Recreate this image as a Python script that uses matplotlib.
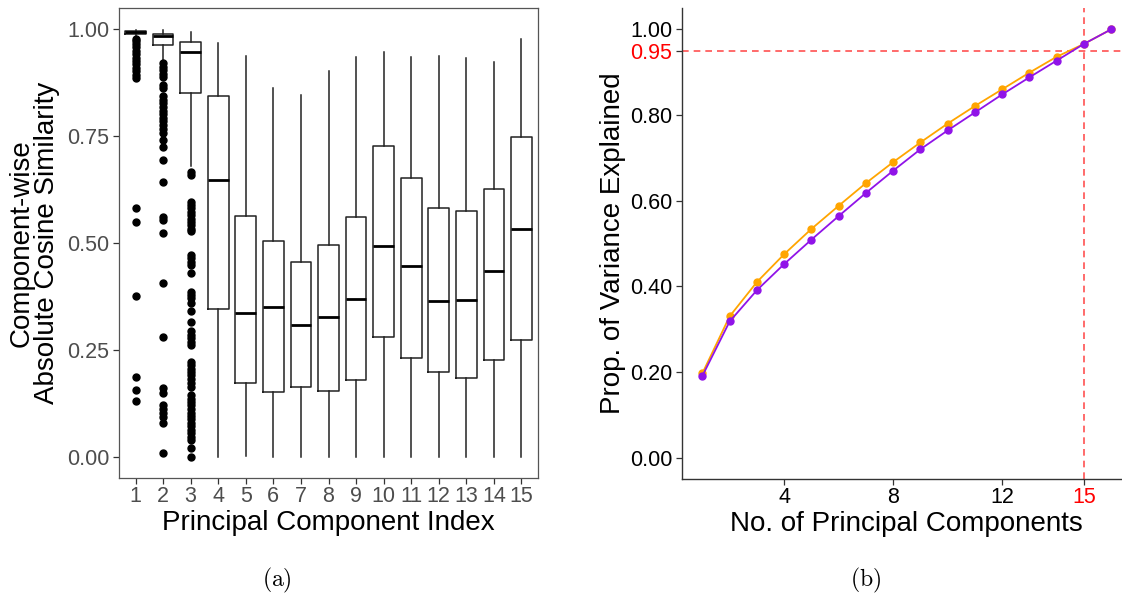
import matplotlib
matplotlib.use("Agg")
import matplotlib.pyplot as plt

plt.rcParams['font.family'] = ['Liberation Sans', 'DejaVu Sans']
plt.rcParams['mathtext.fontset'] = 'cm'

# ---- panel (a): per-component absolute cosine similarity ----
components = list(range(1, 16))
whisker_low = [0.980, 0.929, 0.680, 0.000, 0.002, 0.000, 0.000, 0.000,
               0.000, 0.000, 0.000, 0.000, 0.000, 0.000, 0.000]
quartile_1 = [0.988, 0.964, 0.852, 0.346, 0.173, 0.151, 0.163, 0.153,
              0.179, 0.280, 0.232, 0.198, 0.183, 0.227, 0.273]
medians = [0.993, 0.984, 0.947, 0.648, 0.337, 0.351, 0.307, 0.327,
           0.368, 0.494, 0.447, 0.365, 0.367, 0.434, 0.532]
quartile_3 = [0.997, 0.990, 0.970, 0.844, 0.564, 0.505, 0.455, 0.496,
              0.562, 0.727, 0.653, 0.582, 0.575, 0.627, 0.748]
whisker_high = [0.999, 0.998, 0.994, 0.968, 0.938, 0.863, 0.847, 0.902,
                0.935, 0.948, 0.935, 0.938, 0.933, 0.924, 0.977]

outliers_pc1 = [0.978, 0.972, 0.965, 0.958, 0.950, 0.942, 0.934, 0.926,
                0.918, 0.910, 0.902, 0.894, 0.887, 0.582, 0.550, 0.376,
                0.187, 0.155, 0.131]
outliers_pc2 = [0.921, 0.912, 0.904, 0.896, 0.888, 0.870, 0.863, 0.843,
                0.835, 0.827, 0.818, 0.810, 0.802, 0.793, 0.785, 0.776,
                0.767, 0.758, 0.742, 0.725, 0.695, 0.642, 0.561, 0.553,
                0.523, 0.406, 0.281, 0.160, 0.150, 0.121, 0.112, 0.103,
                0.093, 0.078, 0.009]
outliers_pc3 = [0.667, 0.660, 0.597, 0.589, 0.581, 0.573, 0.565, 0.557,
                0.549, 0.541, 0.533, 0.527, 0.472, 0.464, 0.456, 0.449,
                0.429, 0.386, 0.378, 0.371, 0.359, 0.340, 0.316, 0.293,
                0.285, 0.277, 0.269, 0.262, 0.222, 0.214, 0.206, 0.198,
                0.190, 0.182, 0.173, 0.164, 0.144, 0.136, 0.128, 0.120,
                0.111, 0.103, 0.095, 0.087, 0.079, 0.071, 0.063, 0.055,
                0.047, 0.039, 0.020, 0.000]
outliers = [outliers_pc1, outliers_pc2, outliers_pc3] + [[]] * 12

sim_ticks = [0.00, 0.25, 0.50, 0.75, 1.00]
sim_tick_labels = ["0.00", "0.25", "0.50", "0.75", "1.00"]

# ---- panel (b): cumulative proportion of variance explained ----
n_components = list(range(1, 17))
variance_orange = [0.197, 0.330, 0.410, 0.475, 0.534, 0.588, 0.641, 0.690,
                   0.736, 0.780, 0.821, 0.860, 0.899, 0.936, 0.966, 1.000]
variance_purple = [0.191, 0.318, 0.391, 0.452, 0.509, 0.564, 0.618, 0.670,
                   0.720, 0.764, 0.806, 0.848, 0.888, 0.927, 0.966, 1.000]
threshold = 0.95
cutoff = 15
var_ticks = [0.00, 0.20, 0.40, 0.60, 0.80, 0.95, 1.00]
var_tick_labels = ["0.00", "0.20", "0.40", "0.60", "0.80", "0.95", "1.00"]
comp_ticks = [4, 8, 12, 15]

W, H = 1122, 600
fig = plt.figure(figsize=(W / 100, H / 100), dpi=100)

TICK_FS = 15.5
TITLE_FS = 20

# panel (a)
ax1 = fig.add_axes([119 / W, 1 - 478 / H, 419 / W, 470 / H])
stats = []
for i in range(len(components)):
    stats.append(dict(whislo=whisker_low[i], q1=quartile_1[i], med=medians[i],
                      q3=quartile_3[i], whishi=whisker_high[i],
                      fliers=outliers[i]))
ax1.bxp(stats, positions=components, widths=0.75, showcaps=False,
        boxprops=dict(color='#222222', linewidth=1.1),
        whiskerprops=dict(color='#222222', linewidth=1.1),
        medianprops=dict(color='black', linewidth=2.0),
        flierprops=dict(marker='o', markersize=5, markerfacecolor='black',
                        markeredgecolor='black', linestyle='none'))
ax1.set_xlim(0.4, 15.6)
ax1.set_ylim(-0.05, 1.05)
ax1.set_xticks(components)
ax1.set_xticklabels([str(c) for c in components])
ax1.set_yticks(sim_ticks)
ax1.set_yticklabels(sim_tick_labels)
ax1.tick_params(axis='both', colors='#333333', labelcolor='#4d4d4d',
                labelsize=TICK_FS, length=4, width=0.9, pad=3)
ax1.tick_params(axis='x', pad=2)
for sp in ax1.spines.values():
    sp.set_color('#555555')
    sp.set_linewidth(0.9)
ax1.set_xlabel("Principal Component Index", fontsize=TITLE_FS, labelpad=2)
ax1.set_ylabel("Component-wise\nAbsolute Cosine Similarity",
               fontsize=TITLE_FS, labelpad=5, linespacing=0.95)

# panel (b)
ax2 = fig.add_axes([682 / W, 1 - 479 / H, 449.5 / W, 471 / H])
ax2.axhline(threshold, color='#ff3333', linestyle=(0, (4, 3)),
            linewidth=1.2, alpha=0.85, zorder=1)
ax2.axvline(cutoff, color='#ff3333', linestyle=(0, (4, 3)),
            linewidth=1.2, alpha=0.85, zorder=1)
ax2.plot(n_components, variance_orange, color='#ffa500', linewidth=1.3,
         marker='o', markersize=5, zorder=2)
ax2.plot(n_components, variance_purple, color='#9013e8', linewidth=1.3,
         marker='o', markersize=5, zorder=3)
ax2.set_xlim(0.25, 16.75)
ax2.set_ylim(-0.05, 1.05)
ax2.set_yticks(var_ticks)
ax2.set_yticklabels(var_tick_labels)
ax2.set_xticks(comp_ticks)
ax2.set_xticklabels([str(t) for t in comp_ticks])
ax2.tick_params(axis='both', colors='#333333', labelcolor='black',
                labelsize=TICK_FS, length=4, width=0.9, pad=3)
ax2.tick_params(axis='x', pad=2)
for lab, val in zip(ax2.get_yticklabels(), var_ticks):
    if val == threshold:
        lab.set_color('red')
for lab, val in zip(ax2.get_xticklabels(), comp_ticks):
    if val == cutoff:
        lab.set_color('red')
ax2.spines['top'].set_visible(False)
ax2.spines['right'].set_visible(False)
for s in ('left', 'bottom'):
    ax2.spines[s].set_color('#333333')
    ax2.spines[s].set_linewidth(1.0)
ax2.set_xlabel("No. of Principal Components", fontsize=TITLE_FS, labelpad=2)
ax2.set_ylabel("Prop. of Variance Explained", fontsize=TITLE_FS, labelpad=3)

# sub-figure captions
fig.text(277 / W, 1 - 580 / H, r"$\mathrm{(a)}$", ha='center', va='center',
         fontsize=17)
fig.text(866 / W, 1 - 580 / H, r"$\mathrm{(b)}$", ha='center', va='center',
         fontsize=17)

fig.savefig("out.png", dpi=100)
